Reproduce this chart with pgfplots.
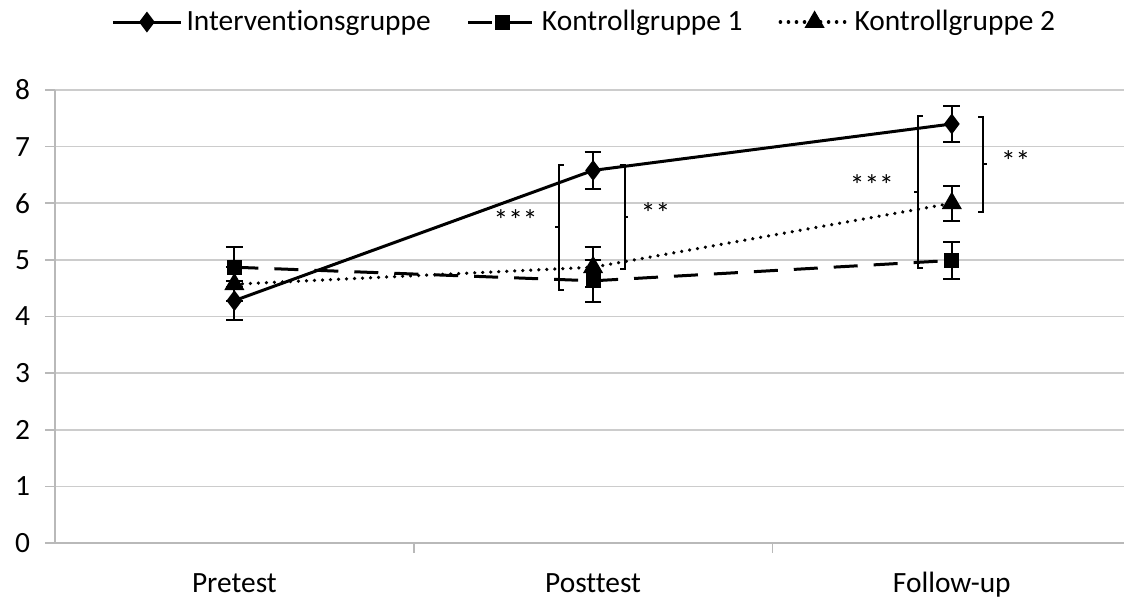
\documentclass[border=0pt]{standalone}
\usepackage{fontspec}
\setmainfont{Carlito}[Ligatures=NoCommon]
\usepackage{pgfplots}
\pgfplotsset{compat=1.18}
\begin{document}
\begin{tikzpicture}
\begin{axis}[
 scale only axis, width=534.5pt, height=226.5pt,
 xmin=-0.5, xmax=2.48, ymin=0, ymax=8,
 axis x line=bottom, axis y line=left,
 axis line style={draw=gray!55, line width=0.8pt, -},
 xtick={0.5,1.5}, xticklabels={},
 extra x ticks={0,1,2}, extra x tick labels={Pretest,Posttest,Follow-up},
 extra x tick style={major tick length=0pt},
 xticklabel style={anchor=base, yshift=-25pt},
 yticklabel style={xshift=-4pt},
 ytick={0,1,...,8},
 tick align=outside,
 major tick length=5pt,
 tick style={draw=gray!55, line width=0.8pt},
 ymajorgrids, grid style={draw=gray!40, line width=0.8pt},
 tick label style={font=\fontsize{14.7}{17}\selectfont},
 /pgf/number format/assume math mode=true,
 legend style={at={(0.496,1.15)}, anchor=center, draw=none, legend columns=3,
   font=\fontsize{14.7}{17}\selectfont,
   /tikz/every even column/.append style={column sep=16pt}},
 legend image code/.code={\draw[mark repeat=2,mark phase=2] plot coordinates {(0cm,0cm) (0.6cm,0cm) (1.2cm,0cm)};},
]
\coordinate (ll) at (rel axis cs:0,0);
\coordinate (ur) at (rel axis cs:1,1);
\addplot[black, line width=1.5pt, mark=diamond*, mark size=4pt, mark options={solid},
  error bars/.cd, y dir=both, y explicit,
  error bar style={solid, line width=1pt},
  error mark options={solid, rotate=90, line width=1pt, mark size=4.2pt}]
  coordinates {(0,4.28) +- (0,0.35) (1,6.58) +- (0,0.33) (2,7.40) +- (0,0.32)};
\addlegendentry{Interventionsgruppe}
\addplot[black, line width=1.5pt, dash pattern=on 12pt off 8pt, mark=square*, mark size=3pt, mark options={solid},
  error bars/.cd, y dir=both, y explicit,
  error bar style={solid, line width=1pt},
  error mark options={solid, rotate=90, line width=1pt, mark size=4.2pt}]
  coordinates {(0,4.87) +- (0,0.35) (1,4.63) +- (0,0.37) (2,4.99) +- (0,0.32)};
\addlegendentry{Kontrollgruppe 1}
\addplot[black, line width=1.8pt, dash pattern=on 0.01pt off 4pt, line cap=round, mark=triangle*, mark size=4pt, mark options={solid, line cap=butt},
  error bars/.cd, y dir=both, y explicit,
  error bar style={solid, line width=1pt, line cap=butt},
  error mark options={solid, rotate=90, line width=1pt, mark size=4.2pt}]
  coordinates {(0,4.57) +- (0,0.30) (1,4.87) +- (0,0.35) (2,6.00) +- (0,0.31)};
\addlegendentry{Kontrollgruppe 2}
% significance brackets
\draw[black, line width=1pt] (axis cs:0.918,6.68) -- (axis cs:0.904,6.68) -- (axis cs:0.904,4.47) -- (axis cs:0.918,4.47);
\draw[black, line width=1pt] (axis cs:0.904,5.575) -- (axis cs:0.894,5.575);
\draw[black, line width=1pt] (axis cs:1.074,6.68) -- (axis cs:1.088,6.68) -- (axis cs:1.088,4.84) -- (axis cs:1.074,4.84);
\draw[black, line width=1pt] (axis cs:1.088,5.76) -- (axis cs:1.098,5.76);
\draw[black, line width=1pt] (axis cs:1.919,7.54) -- (axis cs:1.905,7.54) -- (axis cs:1.905,4.86) -- (axis cs:1.919,4.86);
\draw[black, line width=1pt] (axis cs:1.905,6.20) -- (axis cs:1.895,6.20);
\draw[black, line width=1pt] (axis cs:2.073,7.53) -- (axis cs:2.087,7.53) -- (axis cs:2.087,5.85) -- (axis cs:2.073,5.85);
\draw[black, line width=1pt] (axis cs:2.087,6.69) -- (axis cs:2.097,6.69);
\node[font=\fontsize{14.7}{17}\selectfont, inner sep=0pt] at (axis cs:0.784,5.70) {***};
\node[font=\fontsize{14.7}{17}\selectfont, inner sep=0pt] at (axis cs:1.174,5.82) {**};
\node[font=\fontsize{14.7}{17}\selectfont, inner sep=0pt] at (axis cs:1.777,6.32) {***};
\node[font=\fontsize{14.7}{17}\selectfont, inner sep=0pt] at (axis cs:2.178,6.74) {**};
\end{axis}
\pgfresetboundingbox
\path ([xshift=-27.5pt,yshift=-28pt]ll) rectangle ([yshift=45pt]ur);
\end{tikzpicture}
\end{document}
